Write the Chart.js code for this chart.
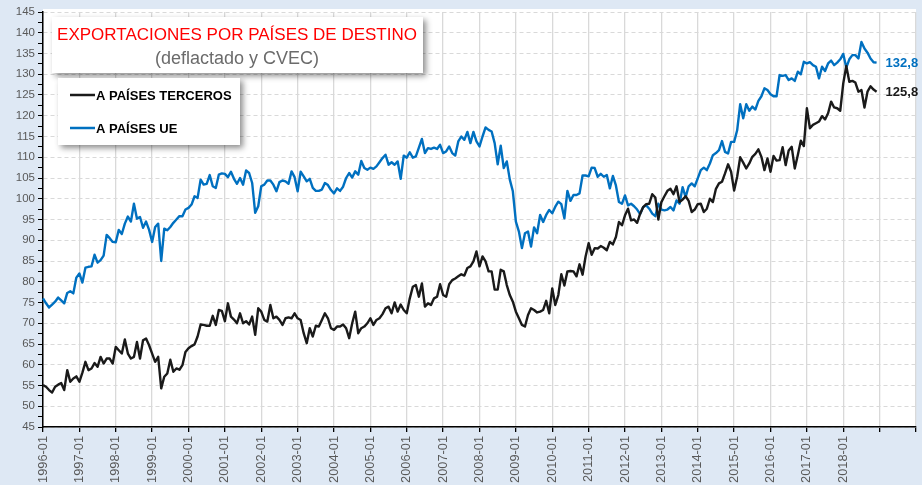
<!DOCTYPE html>
<html>
<head>
<meta charset="utf-8">
<script src="https://cdn.jsdelivr.net/npm/chart.js@4.4.1/dist/chart.umd.min.js"></script>
<style>
  html, body { margin: 0; padding: 0; background: #dee8f4; }
</style>
</head>
<body>
<canvas id="exportChart" width="922" height="485"></canvas>
<script>
// Data: export index by destination, monthly 1996-01 .. 2018-12 (deflactado y CVEC)
const firstYear = 1996;
const lastAxisYear = 2020;

const tickLabels = ["1996-01", "1997-01", "1998-01", "1999-01", "2000-01", "2001-01", "2002-01", "2003-01",
    "2004-01", "2005-01", "2006-01", "2007-01", "2008-01", "2009-01", "2010-01", "2011-01", "2012-01",
    "2013-01", "2014-01", "2015-01", "2016-01", "2017-01", "2018-01"];

const terceros = [
    55.1, 54.7, 53.9, 53.3, 54.7, 55.2, 55.6, 53.9, 58.7, 55.9, 56.7, 57.2,
    55.9, 58.1, 60.7, 58.7, 59.1, 60.4, 59.5, 61.9, 60.3, 61.5, 61.5, 60.3,
    64.3, 63.5, 62.7, 66.1, 62.7, 61.5, 61.9, 65.5, 61.5, 65.9, 66.3, 64.7,
    62.7, 60.7, 61.9, 54.3, 57.1, 57.9, 61.2, 58.3, 59.1, 58.8, 59.9, 63.1,
    64.0, 64.5, 64.9, 66.8, 69.7, 69.6, 69.4, 69.4, 71.8, 69.6, 73.2, 73.0,
    70.5, 74.8, 71.6, 70.9, 70.0, 72.4, 70.0, 70.5, 69.7, 71.6, 67.2, 73.6,
    72.8, 70.8, 70.4, 74.4, 71.2, 71.6, 70.8, 69.6, 71.2, 71.4, 71.2, 72.4,
    71.2, 70.8, 67.6, 65.2, 68.8, 66.8, 69.4, 69.2, 70.8, 72.4, 71.2, 68.8,
    68.4, 69.2, 69.2, 69.7, 68.8, 66.4, 70.0, 72.8, 67.6, 68.8, 69.2, 70.0,
    71.2, 69.6, 70.8, 71.2, 72.2, 73.6, 74.0, 72.4, 75.0, 72.8, 74.5, 73.2,
    72.4, 76.0, 78.8, 79.2, 76.4, 79.6, 74.0, 74.8, 74.4, 76.0, 76.4, 79.4,
    76.8, 76.4, 79.4, 80.4, 80.8, 81.3, 81.8, 81.5, 83.3, 83.7, 84.9, 87.3,
    83.7, 86.1, 84.9, 82.5, 82.5, 78.1, 78.1, 82.9, 82.5, 79.2, 76.8, 75.2,
    72.8, 71.2, 69.6, 69.2, 72.0, 73.6, 73.2, 72.6, 72.8, 73.2, 75.4, 72.4,
    78.4, 74.4, 76.8, 81.8, 79.1, 82.5, 82.6, 82.5, 81.3, 84.2, 81.7, 86.1,
    89.3, 86.5, 88.1, 88.0, 88.6, 88.2, 87.6, 89.6, 89.0, 90.8, 94.4, 93.6,
    96.0, 97.6, 94.8, 95.0, 94.2, 96.4, 98.0, 98.7, 98.8, 101.1, 100.3, 95.0,
    99.2, 100.6, 101.9, 102.4, 101.1, 103.0, 99.2, 99.8, 100.6, 99.5, 96.8, 97.4,
    98.7, 98.8, 96.8, 97.6, 100.0, 99.2, 102.4, 103.7, 104.1, 106.1, 108.3, 106.5,
    102.0, 105.3, 110.0, 108.7, 107.3, 108.5, 110.1, 110.8, 111.9, 110.1, 106.9, 109.7,
    106.5, 110.3, 109.2, 109.3, 112.4, 108.1, 111.6, 112.5, 107.3, 110.5, 114.0, 112.7,
    121.8, 117.0, 117.8, 118.2, 118.6, 119.9, 119.1, 120.6, 123.4, 122.0, 121.8, 121.2,
    127.8, 132.0, 128.2, 128.4, 128.0, 125.8, 126.2, 122.0, 125.8, 127.1, 126.3, 125.8
];

const paisesUE = [
    76.0, 74.8, 73.8, 74.5, 75.2, 76.2, 75.5, 74.8, 77.3, 77.7, 77.2, 81.0,
    82.0, 79.8, 83.4, 83.6, 83.7, 86.5, 84.6, 85.2, 86.3, 91.3, 90.5, 89.6,
    89.5, 92.5, 91.5, 94.0, 95.7, 94.5, 98.8, 95.2, 95.6, 93.0, 94.5, 92.5,
    89.6, 93.2, 94.0, 85.0, 92.8, 92.4, 93.2, 94.2, 95.0, 95.8, 95.8, 97.4,
    97.8, 98.6, 100.6, 100.2, 104.6, 103.4, 103.6, 105.7, 103.0, 102.6, 105.8, 106.1,
    106.0, 105.2, 106.5, 104.8, 103.6, 105.0, 103.4, 106.8, 106.2, 103.8, 96.6, 98.2,
    103.0, 103.4, 104.4, 104.4, 103.4, 101.8, 104.0, 104.4, 104.2, 103.6, 106.6, 105.2,
    101.8, 106.5, 105.4, 104.2, 104.8, 102.6, 101.9, 101.9, 102.2, 103.8, 103.3, 102.1,
    101.3, 102.5, 101.9, 102.9, 105.0, 106.2, 105.1, 106.6, 105.8, 109.1, 107.4, 107.0,
    107.5, 107.2, 107.8, 108.8, 109.8, 110.6, 108.2, 108.8, 108.2, 109.0, 104.8, 110.4,
    109.9, 111.2, 109.9, 110.2, 112.3, 114.4, 111.0, 112.2, 112.0, 112.3, 112.0, 113.0,
    111.0, 111.4, 112.6, 111.0, 110.4, 113.8, 115.0, 114.2, 116.1, 113.4, 116.1, 113.8,
    112.6, 115.0, 117.2, 116.6, 116.2, 113.4, 108.3, 112.8, 107.4, 109.0, 104.6, 101.8,
    94.5, 92.1, 88.1, 91.7, 92.1, 88.5, 93.1, 91.7, 96.1, 94.4, 96.1, 97.3,
    96.5, 98.1, 99.3, 98.7, 95.3, 101.9, 99.5, 100.9, 100.9, 101.3, 105.6, 105.6,
    105.4, 107.5, 107.4, 105.3, 106.0, 105.3, 105.7, 102.5, 105.5, 103.2, 99.2, 98.8,
    100.8, 98.4, 98.8, 98.2, 97.4, 96.3, 98.0, 98.4, 97.6, 96.4, 95.8, 98.8,
    97.4, 97.2, 97.4, 98.0, 97.2, 99.6, 98.8, 102.8, 100.4, 103.0, 103.7, 103.0,
    104.9, 106.9, 107.5, 106.9, 108.5, 110.5, 111.0, 111.7, 113.9, 111.3, 110.9, 113.7,
    113.7, 116.5, 122.8, 119.4, 122.8, 121.2, 122.2, 121.5, 123.6, 124.7, 126.6, 126.2,
    125.2, 124.7, 124.7, 129.8, 129.6, 129.8, 128.6, 129.0, 128.4, 130.6, 130.0, 133.0,
    132.6, 132.9, 132.2, 131.8, 129.0, 131.8, 130.8, 132.6, 133.3, 132.2, 132.8, 133.6,
    134.9, 131.6, 133.6, 134.6, 134.6, 133.8, 137.8, 136.2, 135.2, 133.8, 132.9, 132.8
];

// month categories for the whole axis (1996-01 .. 2020-01)
const months = [];
for (let y = firstYear; y <= lastAxisYear; y++) {
    for (let m = 1; m <= 12; m++) {
        if (y === lastAxisYear && m > 1) break;
        months.push(y + "-" + String(m).padStart(2, "0"));
    }
}

const FONT = "'Liberation Sans', Arial, sans-serif";

// light blue page + white plot area
const background = {
    id: 'background',
    beforeDraw(chart) {
        const {ctx, chartArea: a, width, height} = chart;
        ctx.save();
        ctx.fillStyle = '#dee8f4';
        ctx.fillRect(0, 0, width, height);
        ctx.fillStyle = '#ffffff';
        ctx.fillRect(a.left, a.top - 3, a.right - a.left, a.bottom - a.top + 3);
        ctx.restore();
    }
};

function shadowBox(ctx, x, y, w, h) {
    ctx.save();
    ctx.shadowColor = 'rgba(0,0,0,0.45)';
    ctx.shadowBlur = 6;
    ctx.shadowOffsetX = 3;
    ctx.shadowOffsetY = 3;
    ctx.fillStyle = '#ffffff';
    ctx.fillRect(x, y, w, h);
    ctx.restore();
}

// title box, legend box and last-value labels
const overlays = {
    id: 'overlays',
    afterDraw(chart) {
        const ctx = chart.ctx;
        ctx.save();

        shadowBox(ctx, 52, 17, 371, 56);
        ctx.textAlign = 'center';
        ctx.textBaseline = 'alphabetic';
        ctx.fillStyle = '#ff0000';
        ctx.font = "17px " + FONT;
        ctx.fillText("EXPORTACIONES POR PAÍSES DE DESTINO", 237, 40);
        ctx.fillStyle = '#6b6b6b';
        ctx.font = "18px " + FONT;
        ctx.fillText("(deflactado y CVEC)", 237, 64);

        shadowBox(ctx, 58, 78, 182, 67);
        ctx.textAlign = 'left';
        ctx.textBaseline = 'middle';
        ctx.font = "bold 13px " + FONT;
        const rows = [95, 128];
        chart.data.datasets.forEach((ds, i) => {
            const y = rows[i];
            ctx.strokeStyle = ds.borderColor;
            ctx.lineWidth = 2.5;
            ctx.beginPath();
            ctx.moveTo(70, y);
            ctx.lineTo(95, y);
            ctx.stroke();
            ctx.fillStyle = '#000000';
            ctx.fillText(ds.label, 96, y + 1);
        });

        chart.data.datasets.forEach((ds, i) => {
            const pts = chart.getDatasetMeta(i).data;
            const last = pts[ds.data.length - 1];
            const v = ds.data[ds.data.length - 1];
            ctx.fillStyle = ds.borderColor;
            ctx.fillText(v.toFixed(1).replace('.', ','), last.x + 9, last.y + 1);
        });
        ctx.restore();
    }
};

const cv = document.getElementById("exportChart").getContext('2d');
const exportChart = new Chart(cv, {
    type: 'line',
    data: {
        labels: months,
        datasets: [{
            label: "A PAÍSES TERCEROS",
            data: terceros,
            borderColor: "#1a1a1a",
            borderWidth: 2.4,
            pointRadius: 0,
            tension: 0,
            borderJoinStyle: 'round'
        }, {
            label: "A PAÍSES UE",
            data: paisesUE,
            borderColor: "#0070c0",
            borderWidth: 2.4,
            pointRadius: 0,
            tension: 0,
            borderJoinStyle: 'round'
        }]
    },
    options: {
        responsive: false,
        animation: false,
        layout: {
            padding: { top: 12, right: 6, left: 0, bottom: 0 }
        },
        scales: {
            x: {
                type: 'category',
                offset: false,
                grid: {
                    color: c => c.index % 12 === 0 ? '#d9d9d9' : 'rgba(0,0,0,0)',
                    lineWidth: 1.3,
                    tickColor: c => c.index % 12 === 0 ? '#000000' : 'rgba(0,0,0,0)',
                    tickLength: 5
                },
                border: { color: '#000000', width: 1.5 },
                ticks: {
                    autoSkip: false,
                    minRotation: 90,
                    maxRotation: 90,
                    padding: 4,
                    color: '#595959',
                    font: { family: FONT, size: 12.8 },
                    callback: (v, i) => tickLabels.includes(months[i]) ? months[i] : ''
                },
                afterFit: s => { s.height = 58; s.paddingLeft = 0; s.paddingRight = 0; }
            },
            y: {
                min: 45,
                max: 145,
                grid: {
                    color: c => c.tick.value % 5 === 0 ? '#d9d9d9' : 'rgba(0,0,0,0)',
                    lineWidth: 1,
                    tickColor: '#000000',
                    tickLength: 5
                },
                border: { color: '#000000', width: 1.5, dash: [4, 3] },
                ticks: {
                    stepSize: 2.5,
                    autoSkip: false,
                    padding: 3,
                    color: '#595959',
                    font: { family: FONT, size: 11.5 },
                    callback: v => v % 5 === 0 ? v : ''
                },
                afterFit: s => { s.width = 43; }
            }
        },
        plugins: {
            legend: { display: false },
            tooltip: { enabled: false }
        }
    },
    plugins: [background, overlays]
});
</script>
</body>
</html>
